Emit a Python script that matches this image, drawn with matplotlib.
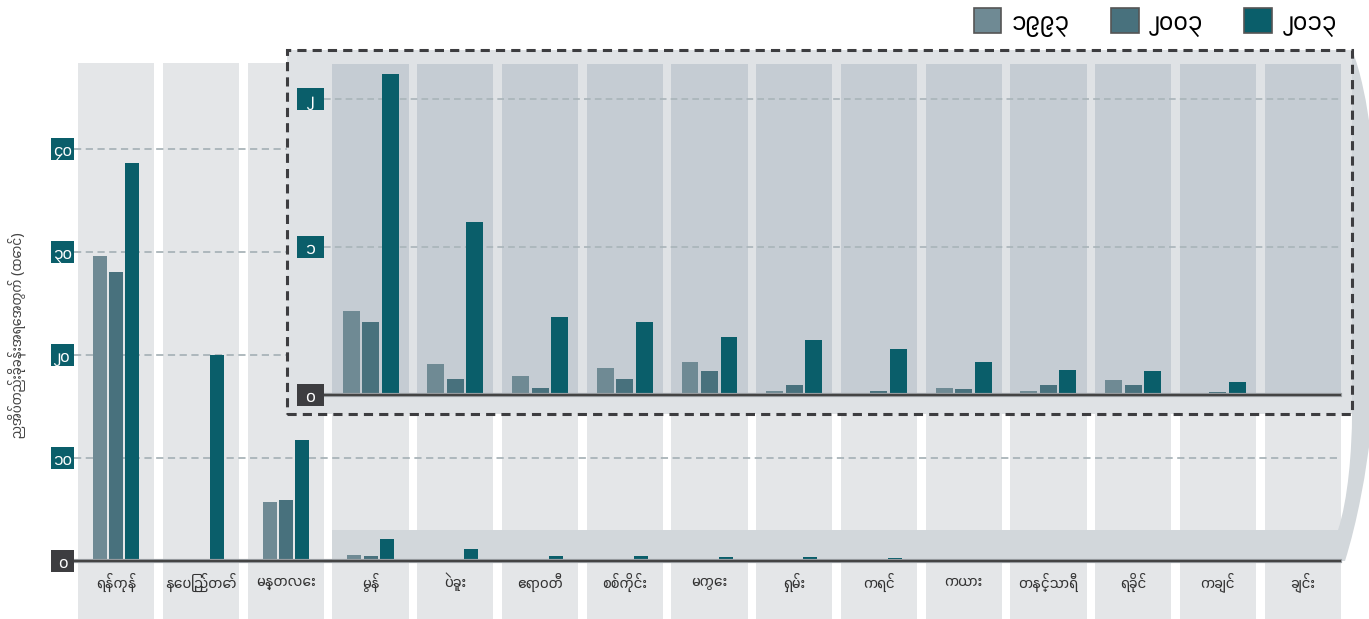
import matplotlib
matplotlib.use("Agg")
import matplotlib.pyplot as plt
import matplotlib.patches as mpatches
import matplotlib.transforms as mtrans
from matplotlib.path import Path
import numpy as np

plt.rcParams['font.family'] = ['Myanmar Sans Pro', 'Noto Sans Myanmar', 'DejaVu Sans']

# ---- data ----
regions = ["ရန်ကုန်", "နေပြည်တော်", "မန္တလေး", "မွန်", "ပဲခူး", "ဧရာဝတီ", "စစ်ကိုင်း",
           "မကွေး", "ရှမ်း", "ကရင်", "ကယား", "တနင်္သာရီ", "ရခိုင်", "ကချင်", "ချင်း"]
years = ["၁၉၉၃", "၂၀၀၃", "၂၀၁၃"]
v1993 = [29.6, 0.1, 5.7, 0.57, 0.21, 0.13, 0.18, 0.22, 0.03, 0.01, 0.05, 0.03, 0.10, 0.0, 0.0]
v2003 = [28.1, 0.2, 5.9, 0.49, 0.11, 0.05, 0.11, 0.16, 0.07, 0.03, 0.04, 0.07, 0.07, 0.02, 0.01]
v2013 = [38.6, 20.0, 11.7, 2.17, 1.17, 0.53, 0.49, 0.39, 0.37, 0.31, 0.22, 0.17, 0.16, 0.09, 0.0]
main_ticks = [0, 10, 20, 30, 40]
main_tick_labels = ["၀", "၁၀", "၂၀", "၃၀", "၄၀"]
inset_ticks = [0, 1, 2]
inset_tick_labels = ["၀", "၁", "၂"]
inset_from = 3          # inset shows regions from မွန် onward
ylabel = "ညအိပ်တည်းခိုခန်းအရေအတွက် (ထောင်)"

colors = ["#6f8a94", "#48717d", "#0a5e6a"]
series = [v1993, v2003, v2013]
TEAL = "#0a5e6a"
DARK = "#3d3d40"
GRID = "#a9b4b9"

W, H = 1369, 619
fig = plt.figure(figsize=(W / 100, H / 100), dpi=100)


def px_rect(l, t, r, b):
    return [l / W, 1 - b / H, (r - l) / W, (b - t) / H]


# pixel (top-left origin) -> display transform
pix = mtrans.Affine2D().scale(1 / W, -1 / H).translate(0, 1) + fig.transFigure

x = np.arange(len(regions))

# ===== main axes =====
ax = fig.add_axes(px_rect(74, 63, 1345, 619))
ymin, ymax = -5.63, 48.35
ax.set_xlim(-0.5, 14.5)
ax.set_ylim(ymin, ymax)
ax.axis("off")

ax.bar(x, ymax - ymin, bottom=ymin, width=0.9, color="#e4e6e8", zorder=0)
for t in main_ticks[1:]:
    ax.axhline(t, xmin=0, xmax=0.996, color=GRID, lw=1.3, ls=(0, (4, 2.5)), zorder=1)

# zoom band + connector towards the inset
verts = [(332, 530), (1338, 530), (1348, 500), (1352, 450), (1352, 414),
         (1352, 50), (1385, 130), (1395, 400), (1345, 561), (332, 561), (332, 530)]
codes = [Path.MOVETO, Path.LINETO, Path.CURVE4, Path.CURVE4, Path.CURVE4,
         Path.LINETO, Path.CURVE4, Path.CURVE4, Path.CURVE4, Path.LINETO, Path.CLOSEPOLY]
conn = mpatches.PathPatch(Path(verts, codes), facecolor="#d2d7db", edgecolor="none",
                          transform=pix, zorder=2, clip_on=False)
ax.add_patch(conn)

bw, off = 0.165, 0.19
for i, (vals, c) in enumerate(zip(series, colors)):
    ax.bar(x + (i - 1) * off, vals, width=bw, color=c, zorder=3)
ax.axhline(0, xmin=0, xmax=0.996, color="#a0a4a8", lw=3, zorder=4)
ax.axhline(0, xmin=0, xmax=0.996, color="#444444", lw=1.6, zorder=4)

bt = mtrans.blended_transform_factory(ax.transAxes, ax.transData)
bw_ax = 23 / 1271
bh = 22 / 10.3
for t, lab in zip(main_ticks, main_tick_labels):
    fc = DARK if t == 0 else TEAL
    ax.add_patch(mpatches.Rectangle((-bw_ax, t - bh / 2), bw_ax, bh, transform=bt,
                                    facecolor=fc, edgecolor="none", clip_on=False, zorder=5))
    ax.text(-bw_ax / 2, t - 0.15, lab, transform=bt, ha="center", va="center",
            color="white", fontsize=12.5, zorder=6, clip_on=False)

for xi, name in zip(x, regions):
    ax.text(xi, -2.05, name, ha="center", va="center", fontsize=11.5, color="#333333", zorder=6)

fig.text(18 / W, 1 - 335 / H, ylabel, rotation=90, ha="center", va="center",
         fontsize=10.5, color="#444444")

# ===== inset axes =====
unit = 1271 / 15
ix0, ix1 = (287 - 74) / unit - 0.5, (1352 - 74) / unit - 0.5
iy0, iy1 = -(414 - 395) / 148, (395 - 50) / 148
ins = fig.add_axes(px_rect(287, 50, 1352, 414))
ins.set_facecolor("#dfe2e5")
ins.set_xlim(ix0, ix1)
ins.set_ylim(iy0, iy1)
ins.set_xticks([])
ins.set_yticks([])
for s in ins.spines.values():
    s.set_visible(False)

xs = x[inset_from:]
ins.bar(xs, (395 - 64) / 148, bottom=0, width=0.9, color="#c5ccd3", zorder=0)
gx0, gx1 = (324 - 287) / 1065, (1340 - 287) / 1065
for t in inset_ticks[1:]:
    ins.axhline(t, xmin=gx0, xmax=gx1, color=GRID, lw=1.2, ls=(0, (4, 2.5)), zorder=1)

ibw, ioff = 0.2, 0.23
for i, (vals, c) in enumerate(zip(series, colors)):
    ins.bar(xs + (i - 1) * ioff, vals[inset_from:], width=ibw, color=c, zorder=3)
ins.axhline(0, xmin=gx0, xmax=gx1, color="#a0a4a8", lw=3, zorder=4)
ins.axhline(0, xmin=gx0, xmax=gx1, color="#444444", lw=1.6, zorder=4)

ibt = mtrans.blended_transform_factory(ins.transAxes, ins.transData)
ib_l, ib_w = 10 / 1065, 27 / 1065
ibh = 22 / 148
for t, lab in zip(inset_ticks, inset_tick_labels):
    fc = DARK if t == 0 else TEAL
    ins.add_patch(mpatches.Rectangle((ib_l, t - ibh / 2), ib_w, ibh, transform=ibt,
                                     facecolor=fc, edgecolor="none", clip_on=False, zorder=5))
    ins.text(ib_l + ib_w / 2, t - 0.015, lab, transform=ibt, ha="center", va="center",
             color="white", fontsize=13, zorder=6)

ins.add_patch(mpatches.Rectangle((0, 0), 1, 1, transform=ins.transAxes, fill=False,
                                 edgecolor=DARK, lw=2.2, ls=(0, (3, 2)), clip_on=False, zorder=7))

# ===== legend =====
handles = [mpatches.Patch(facecolor=c, edgecolor="#555555", lw=1.2) for c in colors]
fig.legend(handles, years, loc="upper right", bbox_to_anchor=(1345 / W, 1.0), ncol=3,
           frameon=False, fontsize=19, handlelength=1.05, handleheight=1.1,
           handletextpad=0.4, columnspacing=1.55, borderaxespad=0.1, borderpad=0.2)

fig.savefig("out.png", dpi=100)
